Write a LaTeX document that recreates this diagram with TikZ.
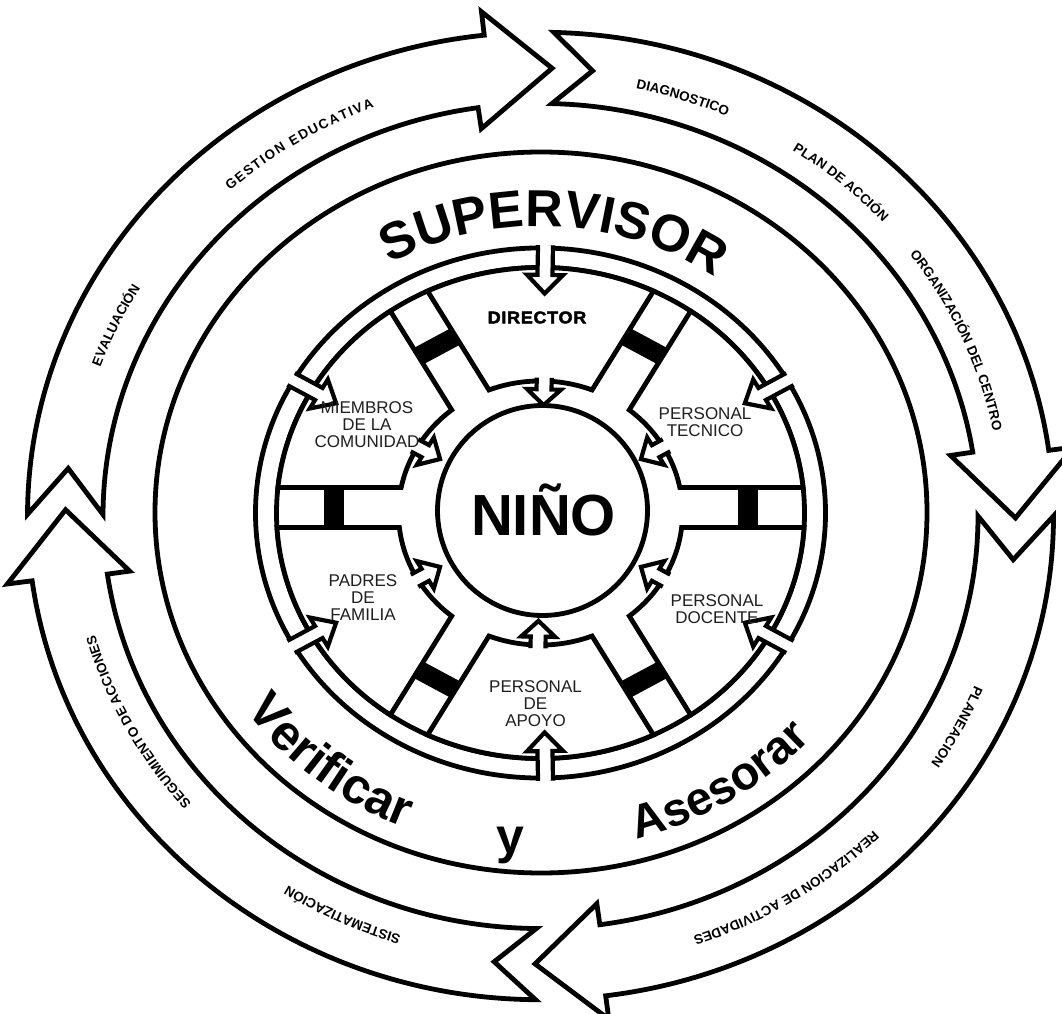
\documentclass[tikz,border=0pt]{standalone}
\usepackage{fontspec}
\setmainfont{Liberation Sans}
\newfontfamily\dirfont[FakeStretch=1.06,FakeBold=2.5,LetterSpace=4]{Liberation Sans Bold}
\usetikzlibrary{decorations.text,calc}
\newcommand\labfont{\fontsize{13.5}{15}\selectfont\bfseries}
\newcommand\supfont{\fontsize{52}{60}\selectfont\bfseries}
\newcommand\verfont{\fontsize{50}{60}\selectfont\bfseries}
\newcommand\asefont{\fontsize{47}{56}\selectfont\bfseries}
\tikzset{
  ring/.style={line width=4.8pt},
  bigarrowstyle/.style={line width=4.8pt,line join=miter,fill=white,draw},
  smallarrow/.style={line width=4.2pt,line join=miter,fill=white,draw},
  sectorbox/.style={line width=4.8pt,fill=white,draw,line join=miter},
  lbl/.style={font=\fontsize{17}{17}\selectfont,text=black!88,align=center,inner sep=0pt},
}
\newcommand\arctext[8]{\path[decorate,decoration={text along path,text={|#7|#8},text align={fit to path}}] ($(#1,#2)+(#5:#3 and #4)$) arc[start angle=#5,end angle=#6,x radius=#3,y radius=#4];}
\newcommand\bigarrow[5]{\path[bigarrowstyle] (#1:513) arc[start angle=#1,end angle=#3,radius=513] -- (#3:538) -- (#5:475) -- (#4:415) -- (#4:437.5) arc[start angle=#4,end angle=#1,radius=437.5] -- (#2:475) -- cycle;}
\newcommand\sector[4]{\path[sectorbox] (#1:264) arc[start angle=#1,end angle=#2,radius=264] -- (#3:142) arc[start angle=#3,end angle=#4,radius=142] -- cycle;}
\begin{document}
\begin{tikzpicture}[x=1pt,y=1pt]
\useasboundingbox (0,0) rectangle (1062,1013);
\fill[white] (0,0) rectangle (1062,1013);
% outer cycle of four arrows
\begin{scope}[shift={(540.5,497)},yscale=0.943]
\bigarrow{179.8}{173.9}{96.3}{98.2}{88.6}
\bigarrow{88.5}{83.7}{7.8}{8.9}{-0.25}
\bigarrow{0}{-5.6}{-82.7}{-82.2}{-90.66}
\bigarrow{269.45}{264.4}{187.7}{188.1}{179.2}
\end{scope}
% supervisor circle
\draw[ring] (541,500.5) ellipse[x radius=386,y radius=360.5];
% inner disc
\begin{scope}[shift={(540.5,500)},yscale=0.93]
\draw[ring] (0,0) circle[radius=285];
\draw[ring] (0,0) circle[radius=264];
\sector{115.33}{64.67}{68.71}{111.29}
\sector{55.33}{5.96}{11.13}{51.29}
\sector{-3.39}{-55.33}{-51.29}{-6.31}
\sector{-64.67}{-115.33}{-111.29}{-68.71}
\sector{235.33}{183.39}{186.31}{231.29}
\sector{174.04}{124.67}{128.71}{168.87}
\foreach \s in {60,120,240,300} \fill[rotate=\s] (197,-21.5) rectangle (217,21.5);
\fill (197,-15.6) rectangle (217,27.4);
\fill (-217,-15.6) rectangle (-197,27.4);
\foreach \a in {89,30,-30,-89,150,210}
  \path[smallarrow,rotate=\a] (288,7.5) -- (256,7.5) -- (256,18) -- (236,0) -- (256,-18) -- (256,-7.5) -- (288,-7.5);
\foreach \a in {88.5,30,-30,-91,150,210}
  \path[smallarrow,rotate=\a] (145.5,7.5) -- (133,7.5) -- (133,17) -- (116,0) -- (133,-17) -- (133,-7.5) -- (145.5,-7.5);
\end{scope}
\draw[ring,fill=white] (542.5,502.5) circle[radius=105];
% texts
\node (nino) at (543.5,477.5) [anchor=base,inner sep=0pt,font=\fontsize{58}{60}\selectfont\bfseries] {NIÑO};
\node (director) at (537,695.5) [inner sep=0pt,font=\dirfont\fontsize{17}{17}\selectfont] {DIRECTOR};
\node[lbl] (miembros) at (367,588.5) {MIEMBROS\\DE LA\\COMUNIDAD};
\node[lbl] (tecnico) at (705,591) {PERSONAL\\TECNICO};
\node[lbl] (docente) at (717,404) {PERSONAL\\DOCENTE};
\node[lbl] (apoyo) at (535.5,309) {PERSONAL\\DE\\APOYO};
\node[lbl] (padres) at (363,415.5) {PADRES\\DE\\FAMILIA};
\node (y) at (510.5,160) [anchor=base,inner sep=0pt,font=\verfont] {y};
\arctext{541}{501}{306}{285.8}{119.6}{56.7}{\supfont}{SUPERVISOR}
\arctext{541}{501}{364}{340}{215.7}{247}{\verfont}{Verificar}
\arctext{541}{501}{363}{339}{285.3}{317.35}{\asefont}{Asesorar}
\arctext{540.5}{497}{464}{437.6}{132}{111}{\labfont}{GESTION EDUCATIVA}
\arctext{540.5}{497}{467.5}{440.9}{160.3}{149}{\labfont}{EVALUACIÓN}
\arctext{540.5}{497}{463}{436.6}{78.1}{66.4}{\labfont}{DIAGNOSTICO}
\arctext{540.5}{497}{462.5}{436.1}{57}{42.6}{\labfont}{PLAN DE ACCIÓN}
\arctext{540.5}{497}{461.5}{435.2}{36.9}{11.4}{\labfont}{ORGANIZACIÓN DEL CENTRO}
\arctext{540.5}{497}{470}{443.2}{-22.5}{-33.5}{\labfont}{PLANEACION}
\arctext{540.5}{497}{471}{444.2}{-45}{-71.1}{\labfont}{REALIZACION DE ACTIVIDADES}
\arctext{540.5}{497}{466}{439.4}{252.6}{237.2}{\labfont}{SISTEMATIZACIÓN}
\arctext{540.5}{497}{463}{436.6}{221.1}{195.8}{\labfont}{SEGUIMIENTO DE ACCIONES}
\end{tikzpicture}
\end{document}
